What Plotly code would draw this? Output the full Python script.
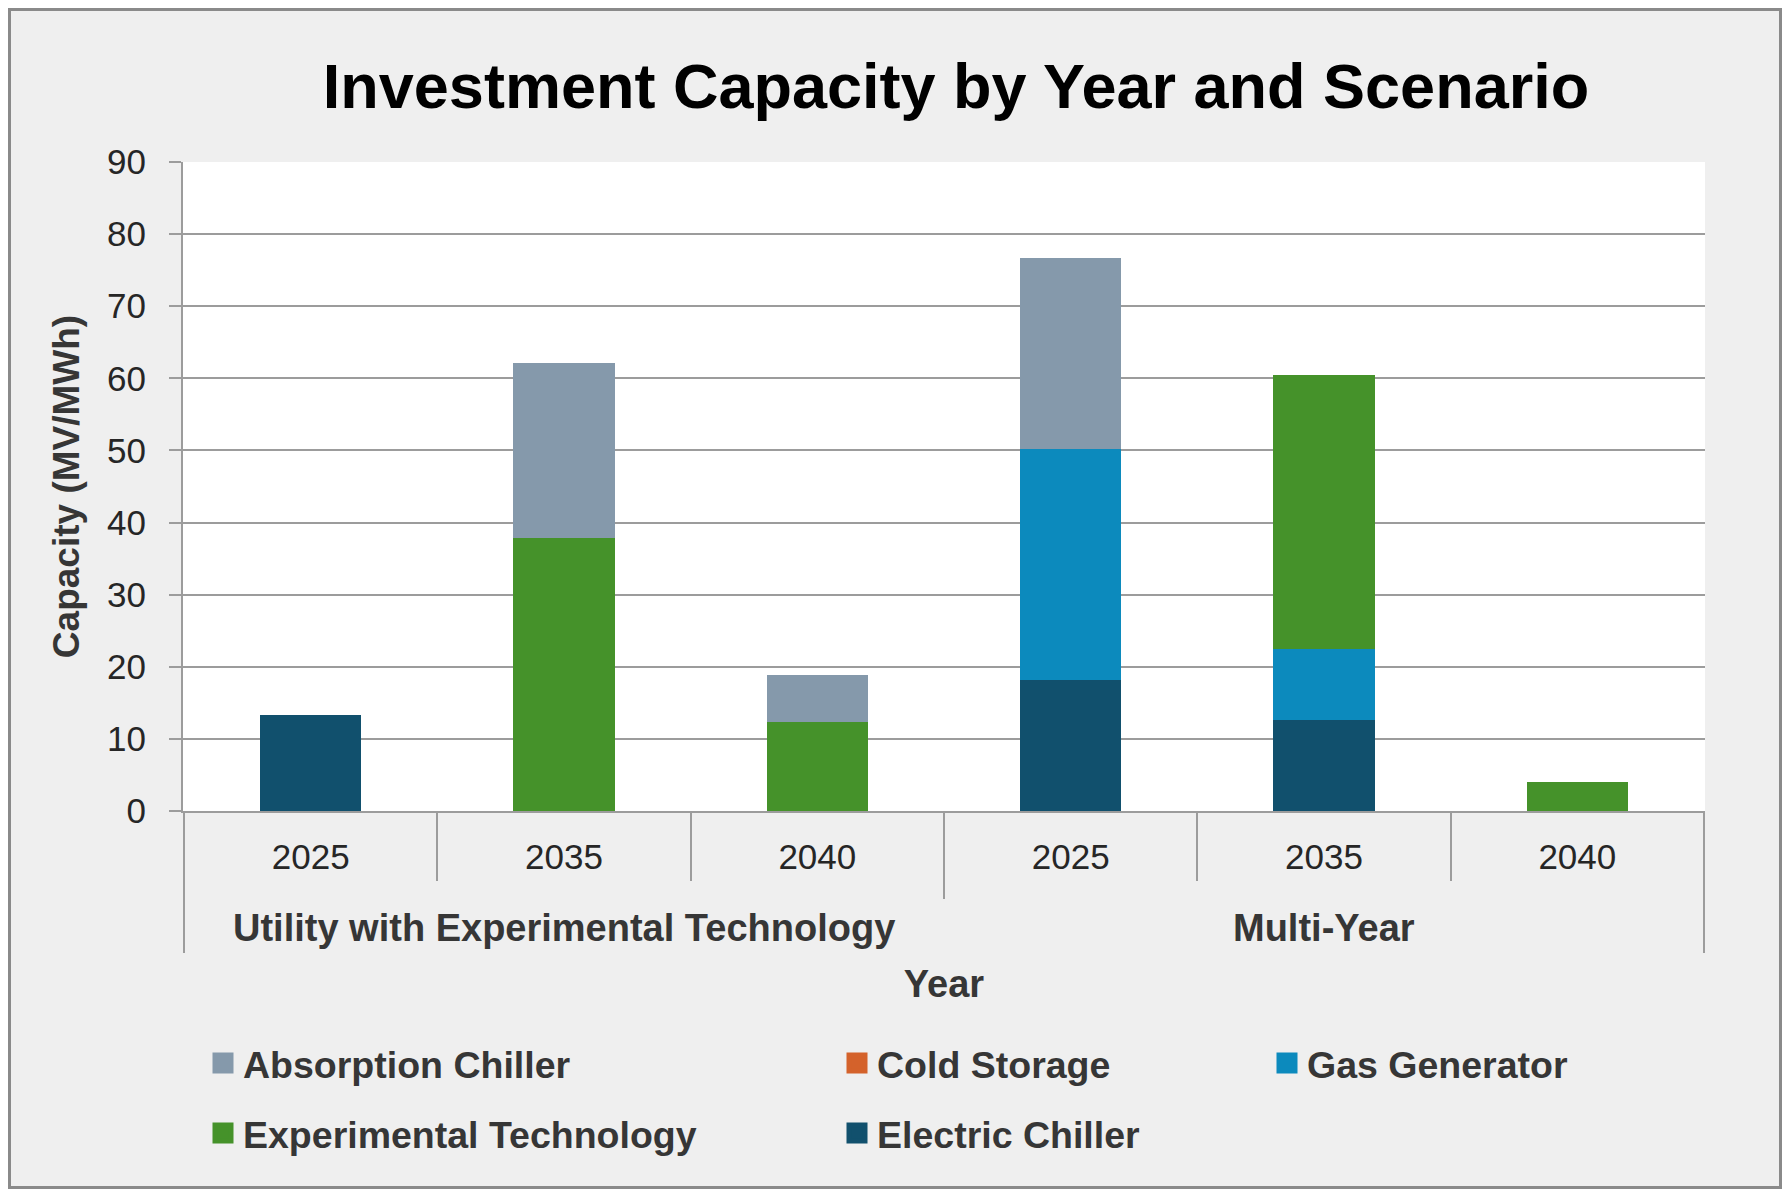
"""
Investment Capacity by Year and Scenario - stacked bars
"""

import plotly.graph_objects as go

# Datos
scenarios = ["Utility with Experimental Technology"] * 3 + ["Multi-Year"] * 3
years = ["2025", "2035", "2040", "2025", "2035", "2040"]

electric_chiller = [13.3, 0, 0, 18.2, 12.6, 0]
gas_generator = [0, 0, 0, 32.0, 9.9, 0]
experimental_tech = [0, 37.9, 12.3, 0, 37.9, 4.0]
absorption_chiller = [0, 24.2, 6.5, 26.5, 0, 0]
cold_storage = [0, 0, 0, 0, 0, 0]

y_ticks = [0, 10, 20, 30, 40, 50, 60, 70, 80, 90]

# Figura
W, H = 1774, 1181
ML, MR, MT, MB = 175, 77, 154, 378
PW, PH = W - ML - MR, H - MT - MB

FONT = "Liberation Sans, Arial, sans-serif"
GRID = "#9c9c9c"
LABEL_COLOR = "#363636"

# claves únicas por categoría (escenario|año), el texto del tick es el año
x_keys = [s + "|" + y for s, y in zip(scenarios, years)]

series = [
    ("Electric Chiller", electric_chiller, "#11506d"),
    ("Gas Generator", gas_generator, "#0c8abd"),
    ("Experimental Technology", experimental_tech, "#45922a"),
    ("Absorption Chiller", absorption_chiller, "#8599ab"),
    ("Cold Storage", cold_storage, "#d4622b"),
]

fig = go.Figure()

for name, vals, color in series:
    fig.add_trace(go.Bar(
        x=x_keys,
        y=vals,
        name=name,
        marker=dict(color=color, line=dict(width=0)),
        showlegend=False,
        hovertemplate='%{x}<br>' + name + ': %{y:.1f}<extra></extra>'
    ))


def px_x(fx):
    return (fx - ML) / PW


def px_y(fy):
    return (MT + PH - fy) / PH


# leyenda: una por entrada para ubicar las columnas como en el original
legend_items = [
    ("Absorption Chiller", "#8599ab", "legend", 235, 1055),
    ("Cold Storage", "#d4622b", "legend2", 869, 1055),
    ("Gas Generator", "#0c8abd", "legend3", 1299, 1055),
    ("Experimental Technology", "#45922a", "legend4", 235, 1125),
    ("Electric Chiller", "#11506d", "legend5", 869, 1125),
]

legend_layouts = {}
for name, color, leg, tx, ty in legend_items:
    fig.add_trace(go.Scatter(
        x=[None], y=[None],
        mode='markers',
        name=name,
        legend=leg,
        marker=dict(symbol='square', size=16, color=color,
                    line=dict(color=color, width=5)),
        hoverinfo='skip'
    ))
    legend_layouts[leg] = dict(
        x=px_x(tx - 40), xanchor='left',
        y=px_y(ty), yanchor='middle',
        bgcolor='rgba(0,0,0,0)',
        font=dict(family=FONT, size=37.5, color=LABEL_COLOR, weight='bold'),
    )

fig.update_layout(
    width=W, height=H,
    margin=dict(l=ML, r=MR, t=MT, b=MB),
    barmode='stack',
    bargap=0.6,
    paper_bgcolor="#efefef",
    plot_bgcolor="#ffffff",
    font=dict(family=FONT, color="#262626"),
    title=dict(
        text="<b>Investment Capacity by Year and Scenario</b>",
        x=948 / W, xref='container', xanchor='center',
        y=1 - 78 / H, yref='container', yanchor='middle',
        font=dict(family=FONT, size=63, color="#000000"),
    ),
    **legend_layouts
)

fig.update_yaxes(
    range=[0, 90],
    tickvals=y_ticks,
    showgrid=True, gridcolor=GRID, gridwidth=2,
    zeroline=False,
    showline=True, linecolor=GRID, linewidth=2,
    ticks='outside', ticklen=12, tickcolor=GRID, tickwidth=2,
    ticklabelstandoff=16,
    tickfont=dict(family=FONT, size=35, color="#262626"),
    title=dict(text="<b>Capacity (MV/MWh)</b>", standoff=16,
               font=dict(family=FONT, size=37, color=LABEL_COLOR)),
)

fig.update_xaxes(
    type='category',
    categoryorder='array', categoryarray=x_keys,
    tickvals=x_keys, ticktext=years,
    showline=True, linecolor=GRID, linewidth=2,
    ticks='outside', tickson='boundaries', ticklen=68,
    tickcolor=GRID, tickwidth=2,
    ticklabelstandoff=14,
    tickfont=dict(family=FONT, size=35, color="#262626"),
    title=dict(text="<b>Year</b>", standoff=95,
               font=dict(family=FONT, size=38, color=LABEL_COLOR)),
)

# etiquetas de escenario y separadores de grupo
group_names = []
for s in scenarios:
    if s not in group_names:
        group_names.append(s)

for g in group_names:
    idx = [i for i, s in enumerate(scenarios) if s == g]
    mid = (idx[0] + idx[-1]) / 2
    fig.add_annotation(
        x=mid, xref='x', y=px_y(920), yref='paper',
        text="<b>" + g + "</b>", showarrow=False,
        xanchor='center', yanchor='middle',
        font=dict(family=FONT, size=38, color=LABEL_COLOR),
    )

edges = [-0.5, len(x_keys) - 0.5]
middles = [i - 0.5 for i in range(1, len(scenarios)) if scenarios[i] != scenarios[i - 1]]
for xb in edges:
    fig.add_shape(type='line', xref='x', yref='paper', x0=xb, x1=xb,
                  y0=0, y1=px_y(945), line=dict(color=GRID, width=2))
for xb in middles:
    fig.add_shape(type='line', xref='x', yref='paper', x0=xb, x1=xb,
                  y0=0, y1=px_y(891), line=dict(color=GRID, width=2))

# marco exterior
fig.add_shape(
    type='rect', xref='paper', yref='paper',
    x0=(1.5 - ML) / PW, x1=(W - 1.5 - ML) / PW,
    y0=px_y(H - 1.5), y1=px_y(1.5),
    line=dict(color="#8a8a8a", width=3),
    fillcolor='rgba(0,0,0,0)', layer='above'
)

fig.write_html("out.html")
